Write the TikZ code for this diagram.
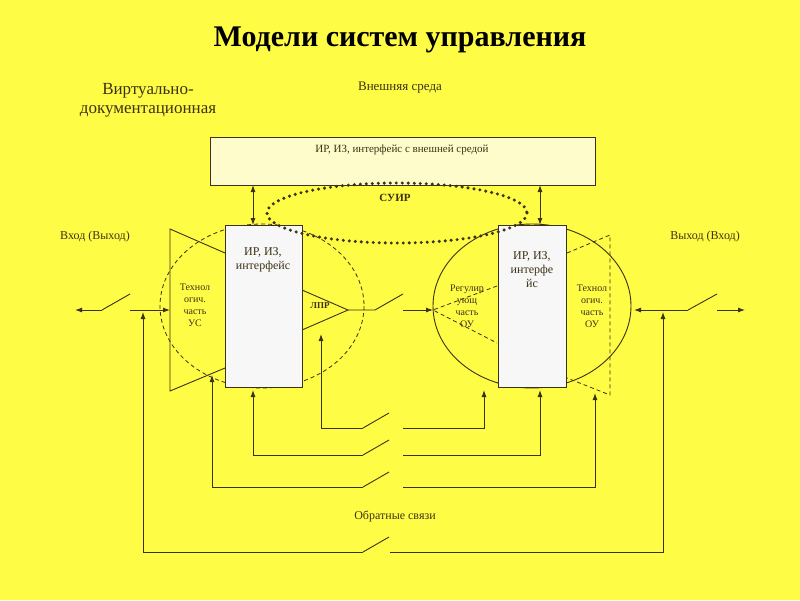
\documentclass[tikz,border=0pt]{standalone}
\usepackage{fontspec}
\setmainfont{Liberation Serif}
\usetikzlibrary{arrows.meta}
\definecolor{bgy}{RGB}{255,252,70}
\definecolor{ln}{RGB}{60,50,20}
\tikzset{
  ln/.style={draw=ln, line width=0.9pt},
  arr/.style={ln, -{Latex[length=7pt,width=5pt]}},
  darr/.style={ln, {Latex[length=7pt,width=5pt]}-{Latex[length=7pt,width=5pt]}},
  dsh/.style={draw=ln, line width=0.8pt, dash pattern=on 4pt off 3pt},
  sm/.style={font=\fontsize{10}{12}\selectfont, align=center, text=ln},
  md/.style={font=\fontsize{12}{14}\selectfont, align=center, text=ln},
  boxw/.style={draw=ln, line width=0.9pt, fill=white!94!gray}
}
\begin{document}
\begin{tikzpicture}[x=1pt,y=-1pt]
\fill[bgy] (0,0) rectangle (800,600);
\useasboundingbox (0,0) rectangle (800,600);
\node[font=\bfseries\fontsize{30}{34}\selectfont] (title) at (400,40) {Модели систем управления};
\node[font=\fontsize{17}{19}\selectfont, align=center, text=ln] (virt) at (148,100) {Виртуально-\\документационная};
\node[md, font=\fontsize{13}{15}\selectfont] (ext) at (400,88) {Внешняя среда};
\node[md] (in1) at (95,237) {Вход (Выход)};
\node[md] (out1) at (705,237) {Выход (Вход)};
% top box
\draw[boxw, fill=white!80!yellow] (210,137) rectangle (595,185);
\coordinate (topL) at (253,185); \coordinate (topR) at (540,185);
\node[sm, font=\fontsize{11}{13}\selectfont] (topt) at (402,150) {ИР, ИЗ, интерфейс с внешней средой};
\node[font=\bfseries\fontsize{11}{13}\selectfont, text=ln] (suir) at (395,198) {СУИР};
% left circle and triangle
\draw[dsh] (262,306) ellipse [x radius=102, y radius=82];
\draw[ln] (225,253) -- (170,229) -- (170,391) -- (225,368);
\draw[ln] (302,290) -- (348,310) -- (302,330);
\draw[boxw] (225,225) rectangle (302,387);
\coordinate (lbT) at (253,225);
\node[md] (lbt) at (263,260) {ИР, ИЗ,\\интерфейс};
\node[sm] (us) at (195,305) {Технол\\огич.\\часть\\УС};
\node[sm, font=\bfseries\fontsize{9}{11}\selectfont] (lpr) at (320,306) {ЛПР};
% right circle
\draw[ln] (532,306) ellipse [x radius=99, y radius=82];
\draw[dsh] (497,286) -- (433,310) -- (497,343);
\draw[dsh] (567,253) -- (610,235) -- (610,395) -- (567,378);
\draw[boxw] (498,225) rectangle (566,387);
\coordinate (rbT) at (540,225);
\node[md] (rbt) at (532,270) {ИР, ИЗ,\\интерфе\\йс};
\node[sm] (reg) at (467,306) {Регулир\\ующ\\часть\\ОУ};
\node[sm] (ou) at (592,306) {Технол\\огич.\\часть\\ОУ};
% dotted ellipse
\draw[ln, line width=3.4pt, dash pattern=on 0pt off 6pt, line cap=round] (397,213) ellipse [x radius=130, y radius=30];
% vertical links
\draw[darr] (topL) -- (lbT);
\draw[darr] (topR) -- (rbT);
% left input
\coordinate (a1) at (75,310); \coordinate (a2) at (102,310); \coordinate (a3) at (130,294);
\coordinate (a4) at (130,310); \coordinate (a5) at (170,310);
\draw[arr] (a2) -- (a1); \draw[ln] (a2) -- (a3);
\draw[arr] (a4) -- (a5);
% LPR output
\coordinate (b1) at (348,310); \coordinate (b2) at (375,310); \coordinate (b3) at (403,294);
\coordinate (b4) at (403,310); \coordinate (b5) at (433,310);
\draw[ln] (b1) -- (b2) -- (b3); \draw[arr] (b4) -- (b5);
% right input
\coordinate (c1) at (688,310); \coordinate (c2) at (717,294); \coordinate (c3) at (634,310);
\coordinate (c4) at (717,310); \coordinate (c5) at (745,310);
\draw[arr] (c1) -- (c3); \draw[ln] (c1) -- (c2); \draw[arr] (c4) -- (c5);
% feedback 1
\draw[arr] (363,428) -- (321,428) -- (321,334);
\draw[ln] (363,428) -- (389,413);
\draw[arr] (403,428) -- (484,428) -- (484,390);
% feedback 2
\draw[arr] (363,455) -- (253,455) -- (253,390);
\draw[ln] (363,455) -- (389,440);
\draw[arr] (403,455) -- (540,455) -- (540,390);
% feedback 3
\draw[arr] (363,487) -- (212,487) -- (212,375);
\draw[ln] (363,487) -- (389,472);
\draw[arr] (403,487) -- (595,487) -- (595,393);
% feedback 4
\draw[arr] (363,552) -- (143,552) -- (143,312);
\draw[ln] (363,552) -- (389,537);
\draw[arr] (390,552) -- (663,552) -- (663,312);
\node[md] (fb) at (395,516) {Обратные связи};
\end{tikzpicture}
\end{document}
